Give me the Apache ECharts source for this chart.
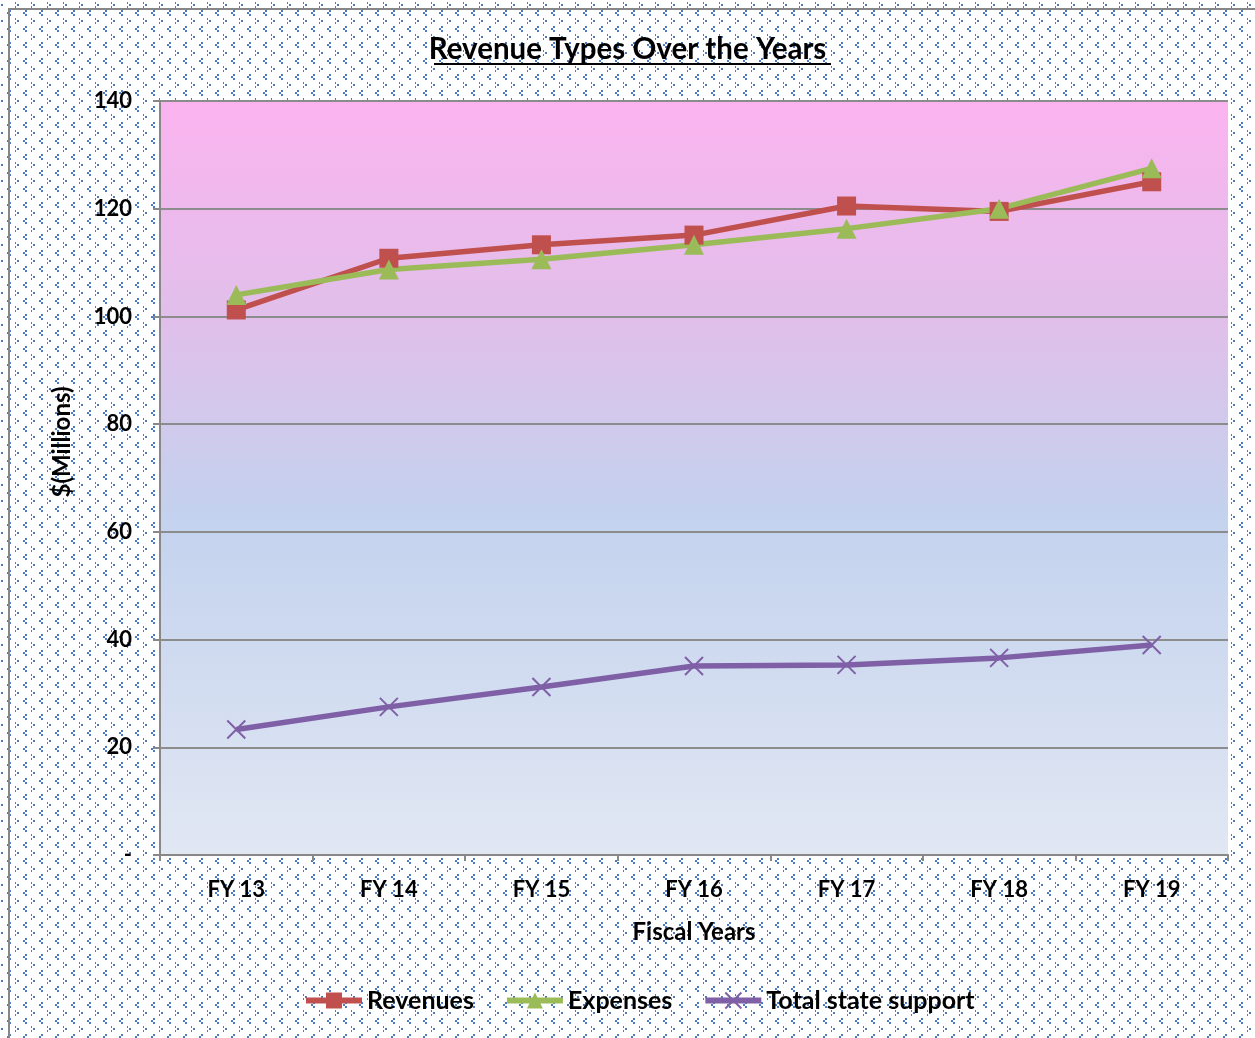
<!DOCTYPE html>
<html style="height: 100%">
<head>
<meta charset="utf-8">
<script src="https://cdn.jsdelivr.net/npm/echarts@6/dist/echarts.min.js"></script>
<style type="text/css">
  *{ margin: 0; padding: 0; }
</style>
</head>
<body style="height: 100%; margin: 0">
<div id="container" style="width: 1255px; height: 1038px"></div>
<script type="text/javascript">
var years = ['FY 13', 'FY 14', 'FY 15', 'FY 16', 'FY 17', 'FY 18', 'FY 19'];
var revenues = [101.2, 110.8, 113.3, 115.1, 120.5, 119.5, 125.0];
var expenses = [104.0, 108.7, 110.6, 113.3, 116.3, 120.0, 127.5];
var stateSupport = [23.3, 27.5, 31.2, 35.1, 35.3, 36.6, 39.0];
var yTicks = [0, 20, 40, 60, 80, 100, 120, 140];

// dotted background tile: ">" and "<" marks made of 2x2 blue dots
var tile = document.createElement('canvas');
tile.width = 16; tile.height = 16;
var c = tile.getContext('2d');
c.fillStyle = '#4a7cc4';
function dot(x, y) {
  c.fillRect(((x % 16) + 16) % 16, y, 2, 2);
}
dot(15, 2); dot(17, 4); dot(15, 6);   // ">"
dot(9, 10); dot(7, 12); dot(9, 14);   // "<"

var font = 'Lato';
var dom = document.getElementById('container');
var myChart = echarts.init(dom);

var option = {
  backgroundColor: { image: tile, repeat: 'repeat' },
  animation: false,
  title: {
    text: 'Revenue Types Over the Years',
    left: 'center',
    top: 29,
    textStyle: { fontFamily: font, fontWeight: 'bold', fontSize: 29.5, color: '#000' }
  },
  graphic: [
    { type: 'line', shape: { x1: 8, y1: 9, x2: 1255, y2: 9 },
      style: { stroke: '#868686', lineWidth: 2 }, silent: true },
    { type: 'line', shape: { x1: 9, y1: 8, x2: 9, y2: 1038 },
      style: { stroke: '#868686', lineWidth: 2 }, silent: true },
    { type: 'line', shape: { x1: 434, y1: 64, x2: 831, y2: 64 },
      style: { stroke: '#000', lineWidth: 2 }, silent: true }
  ],
  legend: {
    bottom: 20,
    left: 298,
    itemWidth: 56,
    itemHeight: 20,
    itemGap: 30,
    lineStyle: { width: 6 },
    textStyle: { fontFamily: font, fontWeight: 'bold', fontSize: 25, color: '#000' },
    data: ['Revenues', 'Expenses', 'Total state support']
  },
  grid: {
    left: 160, right: 27, top: 101, bottom: 183,
    show: true,
    borderWidth: 0,
    backgroundColor: new echarts.graphic.LinearGradient(0, 0, 0, 1, [
      { offset: 0, color: '#fbb3ef' },
      { offset: 0.3, color: '#dfc0ea' },
      { offset: 0.55, color: '#c3d2ee' },
      { offset: 1, color: '#e1e7f3' }
    ])
  },
  xAxis: {
    type: 'category',
    data: years,
    boundaryGap: true,
    name: 'Fiscal Years',
    nameLocation: 'middle',
    nameGap: 65,
    nameTextStyle: { fontFamily: font, fontWeight: 'bold', fontSize: 24, color: '#000' },
    axisLine: { lineStyle: { color: '#888', width: 2 } },
    axisTick: { show: true, alignWithLabel: false, length: 6, lineStyle: { color: '#888', width: 2 } },
    axisLabel: { margin: 24, fontFamily: font, fontWeight: 'bold', fontSize: 22, color: '#000' }
  },
  yAxis: {
    type: 'value',
    min: yTicks[0],
    max: yTicks[yTicks.length - 1],
    interval: 20,
    name: '$(Millions)',
    nameLocation: 'middle',
    nameGap: 86,
    nameTextStyle: { fontFamily: font, fontWeight: 'bold', fontSize: 24, color: '#000', padding: [0, 0, 0, 72] },
    axisLine: { show: true, lineStyle: { color: '#888', width: 2 } },
    axisTick: { show: true, length: 7, lineStyle: { color: '#888', width: 2 } },
    splitLine: { show: true, lineStyle: { color: '#8c8c8c', width: 2 } },
    axisLabel: {
      margin: 28, fontFamily: font, fontWeight: 'bold', fontSize: 22, color: '#000',
      formatter: function (v) { return v === 0 ? '-' : v; }
    }
  },
  series: [
    {
      name: 'Revenues', type: 'line', data: revenues,
      symbol: 'rect', symbolSize: 19,
      color: '#c0504d',
      lineStyle: { width: 5.5 }
    },
    {
      name: 'Expenses', type: 'line', data: expenses,
      symbol: 'triangle', symbolSize: 20,
      color: '#9bbb59',
      lineStyle: { width: 5.5 }
    },
    {
      name: 'Total state support', type: 'line', data: stateSupport,
      symbol: 'path://M0,0L10,10M10,0L0,10', symbolSize: 18,
      color: '#7f60a6',
      itemStyle: { borderColor: '#7f60a6', borderWidth: 2 },
      lineStyle: { width: 5.5 }
    }
  ]
};
myChart.setOption(option);
</script>
</body>
</html>
